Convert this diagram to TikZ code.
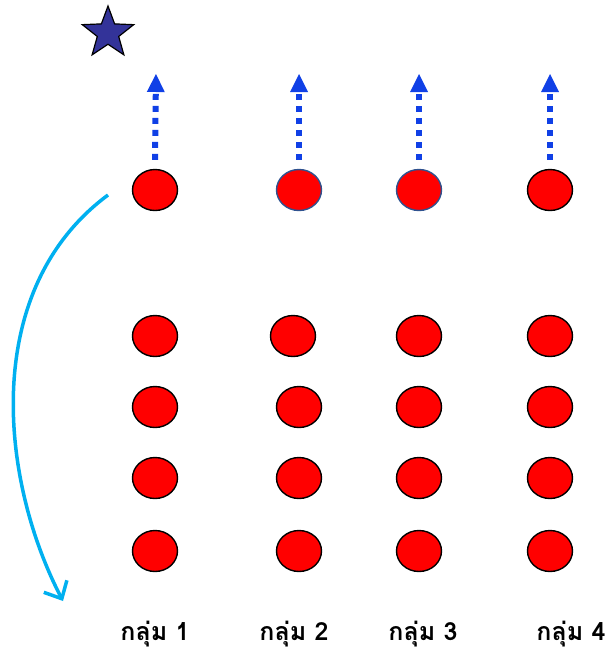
\documentclass[tikz,border=0pt]{standalone}
\usepackage{fontspec}
\newfontfamily\thaifont[Script=Thai,BoldFont={Loma Bold}]{Loma}
\usetikzlibrary{arrows.meta,shapes.geometric}
\definecolor{dotblue}{RGB}{16,64,230}
\definecolor{stardark}{RGB}{51,51,153}
\definecolor{curvecyan}{RGB}{0,176,240}
\definecolor{ringblue}{RGB}{47,82,143}
\tikzset{
  ball/.style={ellipse,draw=black,line width=1.4pt,fill=red,minimum width=45pt,minimum height=41pt,inner sep=0pt},
  ballb/.style={ball,draw=ringblue},
  uparrow/.style={draw=dotblue,line width=6pt,dash pattern=on 6pt off 6pt,-{Triangle[width=18pt,length=18pt,line width=0pt,fill=dotblue]}},
  grouplabel/.style={font=\thaifont\bfseries\fontsize{25}{28}\selectfont,inner sep=0pt,anchor=base},
  swing/.style={draw=curvecyan,line width=3.5pt,-{Straight Barb[length=14pt,width=26pt,line width=3.5pt]}}
}
\begin{document}
\begin{tikzpicture}[x=1pt,y=-1pt]
\useasboundingbox (0,0) rectangle (609,654);
% star
\node[star,star points=5,star point ratio=2.4,minimum size=54pt,inner sep=0pt,fill=stardark,draw=black,line width=1.2pt] (star) at (108,33) {};
% top row
\node[ball]  (t1) at (155,190) {};
\node[ballb] (t2) at (299,190) {};
\node[ballb] (t3) at (419,190) {};
\node[ball]  (t4) at (550,190) {};
% arrow tips
\coordinate (a1) at (156,74);
\coordinate (a2) at (299,74);
\coordinate (a3) at (419,74);
\coordinate (a4) at (550,74);
\foreach \i in {1,2,3,4}{
  \draw[uparrow] ([yshift=9pt]t\i.north) -- (a\i);
}
% lower rows
\node[ball] (r11) at (155,336) {};
\node[ball] (r12) at (155,407) {};
\node[ball] (r13) at (155,478) {};
\node[ball] (r14) at (155,551) {};
\node[ball] (r21) at (293,336) {};
\node[ball] (r22) at (299,407) {};
\node[ball] (r23) at (299,478) {};
\node[ball] (r24) at (299,551) {};
\node[ball] (r31) at (419,336) {};
\node[ball] (r32) at (419,407) {};
\node[ball] (r33) at (419,478) {};
\node[ball] (r34) at (419,551) {};
\node[ball] (r41) at (550,336) {};
\node[ball] (r42) at (550,407) {};
\node[ball] (r43) at (550,478) {};
\node[ball] (r44) at (550,551) {};
% curve
\coordinate (cs) at (108,195);
\coordinate (ce) at (63,601);
\draw[swing] (cs) .. controls (-20,290) and (0,480) .. (ce);
% labels
\node[grouplabel] (g1) at (155,640) {กลุ่ม 1};
\node[grouplabel] (g2) at (294,640) {กลุ่ม 2};
\node[grouplabel] (g3) at (423,640) {กลุ่ม 3};
\node[grouplabel] (g4) at (571,640) {กลุ่ม 4};
\end{tikzpicture}
\end{document}
